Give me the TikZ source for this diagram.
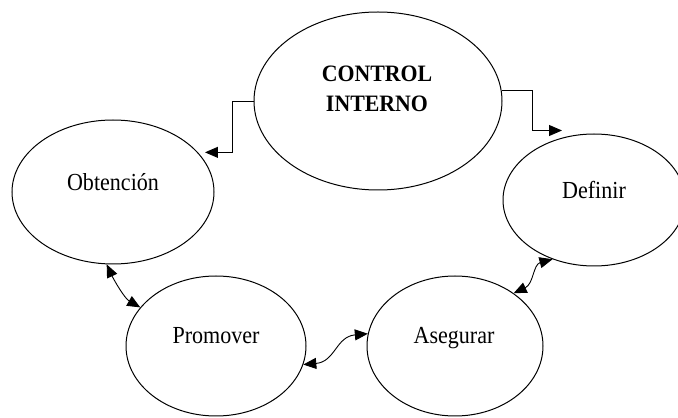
\documentclass[tikz,border=0pt]{standalone}
\usepackage{fontspec}
\setmainfont{Liberation Serif}
\usetikzlibrary{arrows.meta,shapes.geometric}
\tikzset{
  bubble/.style={ellipse, draw, line width=1pt, inner sep=0pt},
  lbl/.style={anchor=base, inner sep=0pt, font=\fontsize{24.5}{28}\selectfont},
  conn/.style={line width=0.9pt, >={Triangle[length=13pt,width=11pt]}},
}
\newcommand{\sq}[1]{\scalebox{0.9}[1]{#1}}
\begin{document}
\begin{tikzpicture}[x=1pt,y=1pt]
\useasboundingbox (0,0) rectangle (678,418);
% ellipses
\node[bubble, minimum width=248pt, minimum height=178pt] (ctrl) at (378,317) {};
\node[bubble, minimum width=202pt, minimum height=144pt] (obt) at (113,226) {};
\node[bubble, minimum width=182pt, minimum height=132pt] (def) at (594,218) {};
\node[bubble, minimum width=180pt, minimum height=140pt] (prom) at (216,72) {};
\node[bubble, minimum width=176pt, minimum height=140pt] (aseg) at (455,72) {};
% texts
\node[lbl, font=\fontsize{23.5}{30}\bfseries] (t1) at (377,336.3) {\scalebox{0.93}[1]{CONTROL}};
\node[lbl, font=\fontsize{23.5}{30}\bfseries] (t2) at (377,306.3) {\scalebox{0.93}[1]{INTERNO}};
\node[lbl] (t3) at (113,227.3) {\sq{Obtención}};
\node[lbl] (t4) at (594,219) {\sq{Definir}};
\node[lbl] (t5) at (216,74) {\sq{Promover}};
\node[lbl] (t6) at (454,74) {\sq{Asegurar}};
% connectors from CONTROL INTERNO
\draw[conn,->] (ctrl.west) -- ++(-21,0) |- ([xshift=7pt]obt.25);
\draw[conn,->] (ctrl.5) -- ++(31,0) |- ([xshift=-32pt,yshift=3pt]def.north);
% double curved arrows
\draw[conn,<->] (obt.-95) .. controls +(-65:18) and +(150:18) .. (prom.153);
\draw[conn,<->] (prom.-12) .. controls +(5:32) and +(185:32) .. (aseg.172);
\draw[conn,<->] (aseg.42) .. controls +(25:22) and +(195:20) .. (def.-125);
\end{tikzpicture}
\end{document}
